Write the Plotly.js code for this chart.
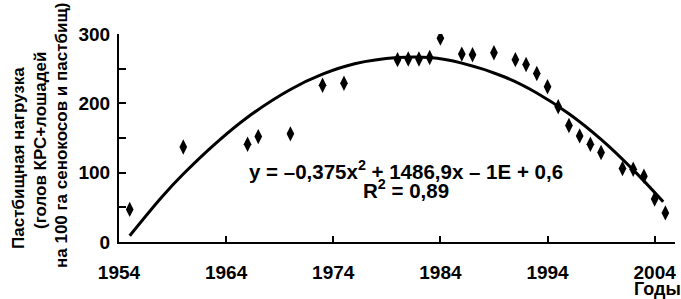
<!DOCTYPE html>
<html>
<head>
<meta charset="utf-8">
<script src="https://cdn.plot.ly/plotly-3.0.1.min.js"></script>
<style>html,body{margin:0;padding:0;background:#fff;}#chart{width:681px;height:299px;}</style>
</head>
<body>
<div id="chart"></div>
<script>
// Observed values (years and grazing load)
const years = [1955, 1960, 1966, 1967, 1970, 1973, 1975, 1980, 1981, 1982, 1983, 1984, 1986, 1987, 1989, 1991, 1992, 1993, 1994, 1995, 1996, 1997, 1998, 1999, 2001, 2002, 2003, 2004, 2005];
const load = [47, 137, 141, 152, 156, 226, 229, 263, 264, 264, 266, 294, 271, 270, 273, 263, 256, 243, 224, 195, 168, 153, 141, 129, 106, 105, 95, 62, 42];

// Trend curve
const trendYears = [1955, 1958, 1960, 1963, 1966, 1970, 1973, 1976, 1980, 1983, 1986, 1990, 1993, 1996, 1999, 2002, 2004.8];
const trendLoad = [9, 65, 98, 142, 180, 220, 242, 257, 266, 266, 258, 238, 215, 185, 148, 104, 58];

const xTicks = [1954, 1964, 1974, 1984, 1994, 2004];
const yTicks = [0, 50, 100, 150, 200, 250, 300];
const yTickText = ['0', '', '100', '', '200', '', '300'];

const equationLine = 'y = –0,375x<sup>2</sup> + 1486,9x – 1E + 0,6';
const r2Line = 'R<sup>2</sup> = 0,89';
const yTitleLines = ['Пастбищная нагрузка', '(голов КРС+лошадей', 'на 100 га сенокосов и пастбищ)'];
const xTitle = 'Годы';

const FONT = 'Liberation Sans, Arial, sans-serif';
const L = 119, R = 6, T = 34, B = 57, W = 681, H = 299;
const pw = W - L - R, ph = H - T - B;
const px2paperX = p => (p - L) / pw;
const px2paperY = p => (H - B - p) / ph;

const traces = [
  {x: trendYears, y: trendLoad, mode: 'lines', type: 'scatter',
   line: {color: '#000', width: 3, shape: 'spline'}, hoverinfo: 'skip'},
  {x: years, y: load, mode: 'markers', type: 'scatter',
   marker: {symbol: 'diamond-tall', size: 11, color: '#000'}}
];

const yTitlePos = [[18, 158], [40, 141], [61, 136]];
const annotations = yTitleLines.map((t, i) => ({
  text: t, xref: 'paper', yref: 'paper',
  x: px2paperX(yTitlePos[i][0]), y: px2paperY(yTitlePos[i][1]),
  xanchor: 'center', yanchor: 'middle', textangle: -90, showarrow: false,
  font: {family: FONT, size: 17, color: '#000', weight: 'bold'}
}));
annotations.push({text: equationLine, xref: 'paper', yref: 'paper',
  x: px2paperX(405.5), y: px2paperY(170), xanchor: 'center', yanchor: 'middle', showarrow: false,
  font: {family: FONT, size: 20.5, color: '#000', weight: 'bold'}});
annotations.push({text: r2Line, xref: 'paper', yref: 'paper',
  x: px2paperX(406), y: px2paperY(189), xanchor: 'center', yanchor: 'middle', showarrow: false,
  font: {family: FONT, size: 20.5, color: '#000', weight: 'bold'}});
annotations.push({text: xTitle, xref: 'paper', yref: 'paper',
  x: px2paperX(632), y: px2paperY(289), xanchor: 'left', yanchor: 'middle', showarrow: false,
  font: {family: FONT, size: 18, color: '#000', weight: 'bold'}});

const layout = {
  width: W, height: H,
  margin: {l: L, r: R, t: T, b: B, pad: 0},
  paper_bgcolor: '#fff', plot_bgcolor: '#fff',
  showlegend: false,
  font: {family: FONT, color: '#000', size: 19, weight: 'bold'},
  xaxis: {range: [1954, 2005.9], tickmode: 'array', tickvals: xTicks, ticktext: xTicks.map(String),
    ticks: 'inside', ticklen: 6, tickwidth: 2, tickcolor: '#000',
    showline: true, linewidth: 2, linecolor: '#000', showgrid: false, zeroline: false,
    ticklabelstandoff: 12,
    tickfont: {family: FONT, size: 19, color: '#000', weight: 'bold'}},
  yaxis: {range: [0, 300], tickmode: 'array', tickvals: yTicks, ticktext: yTickText,
    ticks: 'inside', ticklen: 7, tickwidth: 2, tickcolor: '#000',
    showline: true, linewidth: 2, linecolor: '#000', showgrid: false, zeroline: false,
    ticklabelstandoff: 3,
    tickfont: {family: FONT, size: 19, color: '#000', weight: 'bold'}},
  annotations: annotations
};

Plotly.newPlot('chart', traces, layout, {staticPlot: true, displayModeBar: false});
</script>
</body>
</html>
